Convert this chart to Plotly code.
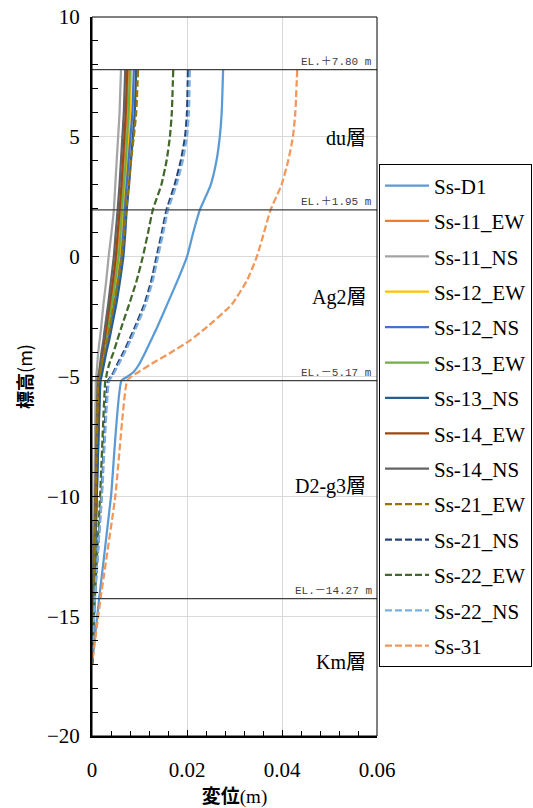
import plotly.graph_objects as go

# Elevation stations (m) shared by every displacement profile
ELEV = [7.8, 6.0, 5.0, 4.0, 3.0, 1.95, 1.0, 0.0, -1.0, -2.0, -3.0, -3.5,
        -4.0, -4.5, -4.8, -5.0, -5.17, -10.0, -14.27, -17.0]

# Maximum displacement (m) per ground motion at each elevation
SS_D1 = [0.0276, 0.0273, 0.0269, 0.0262, 0.0250, 0.0227, 0.0213, 0.0200, 0.0180, 0.0158,
         0.0136, 0.0124, 0.0112, 0.0099, 0.0088, 0.0075, 0.0062, 0.0040, 0.0015, 0.0]
SS_11_EW = [0.0076, 0.0073, 0.0070, 0.0067, 0.0064, 0.0060, 0.0056, 0.0052, 0.0046, 0.0039,
            0.0031, 0.0027, 0.0023, 0.0019, 0.0017, 0.0015, 0.0014, 0.0008, 0.0003, 0.0]
SS_11_NS = [0.0061, 0.0058, 0.0055, 0.0052, 0.0049, 0.0046, 0.0041, 0.0035, 0.0030, 0.0024,
            0.0019, 0.0016, 0.0013, 0.0011, 0.0010, 0.0009, 0.0008, 0.0005, 0.0002, 0.0]
SS_12_EW = [0.0082, 0.0080, 0.0077, 0.0074, 0.0070, 0.0066, 0.0063, 0.0059, 0.0052, 0.0045,
            0.0036, 0.0031, 0.0026, 0.0022, 0.0019, 0.0017, 0.0016, 0.0009, 0.0004, 0.0]
SS_12_NS = [0.0088, 0.0085, 0.0081, 0.0077, 0.0073, 0.0069, 0.0066, 0.0062, 0.0055, 0.0047,
            0.0038, 0.0033, 0.0028, 0.0023, 0.0020, 0.0018, 0.0017, 0.0010, 0.0004, 0.0]
SS_13_EW = [0.0080, 0.0077, 0.0074, 0.0071, 0.0067, 0.0063, 0.0060, 0.0056, 0.0049, 0.0042,
            0.0034, 0.0030, 0.0025, 0.0021, 0.0018, 0.0016, 0.0015, 0.0009, 0.0004, 0.0]
SS_13_NS = [0.0093, 0.0090, 0.0086, 0.0082, 0.0078, 0.0073, 0.0070, 0.0066, 0.0059, 0.0051,
            0.0041, 0.0036, 0.0030, 0.0025, 0.0022, 0.0020, 0.0018, 0.0010, 0.0004, 0.0]
SS_14_EW = [0.0074, 0.0071, 0.0068, 0.0065, 0.0062, 0.0058, 0.0054, 0.0050, 0.0044, 0.0037,
            0.0030, 0.0026, 0.0022, 0.0018, 0.0016, 0.0014, 0.0013, 0.0008, 0.0003, 0.0]
SS_14_NS = [0.0070, 0.0067, 0.0064, 0.0061, 0.0058, 0.0054, 0.0050, 0.0046, 0.0040, 0.0034,
            0.0027, 0.0024, 0.0020, 0.0017, 0.0015, 0.0013, 0.0012, 0.0007, 0.0003, 0.0]
SS_21_EW = [0.0097, 0.0093, 0.0088, 0.0082, 0.0077, 0.0072, 0.0068, 0.0063, 0.0055, 0.0046,
            0.0037, 0.0032, 0.0026, 0.0020, 0.0017, 0.0014, 0.0013, 0.0008, 0.0004, 0.0]
SS_21_NS = [0.0202, 0.0200, 0.0196, 0.0187, 0.0174, 0.0157, 0.0147, 0.0136, 0.0125, 0.0110,
            0.0089, 0.0078, 0.0066, 0.0053, 0.0046, 0.0040, 0.0034, 0.0020, 0.0006, 0.0]
SS_22_EW = [0.0171, 0.0168, 0.0164, 0.0157, 0.0146, 0.0128, 0.0118, 0.0107, 0.0094, 0.0078,
            0.0061, 0.0053, 0.0045, 0.0036, 0.0032, 0.0030, 0.0028, 0.0017, 0.0006, 0.0]
SS_22_NS = [0.0206, 0.0204, 0.0200, 0.0191, 0.0178, 0.0160, 0.0150, 0.0139, 0.0128, 0.0113,
            0.0092, 0.0081, 0.0069, 0.0056, 0.0048, 0.0042, 0.0036, 0.0021, 0.0006, 0.0]
SS_31 = [0.0432, 0.0428, 0.0423, 0.0413, 0.0399, 0.0376, 0.0362, 0.0347, 0.0326, 0.0294,
         0.0238, 0.0206, 0.0166, 0.0123, 0.0099, 0.0083, 0.0074, 0.0049, 0.0018, 0.0]

SERIES_NAMES = ["Ss-D1", "Ss-11_EW", "Ss-11_NS", "Ss-12_EW", "Ss-12_NS", "Ss-13_EW",
                "Ss-13_NS", "Ss-14_EW", "Ss-14_NS", "Ss-21_EW", "Ss-21_NS", "Ss-22_EW",
                "Ss-22_NS", "Ss-31"]
SERIES_VALUES = [SS_D1, SS_11_EW, SS_11_NS, SS_12_EW, SS_12_NS, SS_13_EW, SS_13_NS,
                 SS_14_EW, SS_14_NS, SS_21_EW, SS_21_NS, SS_22_EW, SS_22_NS, SS_31]

# Layer boundaries and layer names
BOUNDARY_EL = [7.80, 1.95, -5.17, -14.27]
LAYER_NAMES = ["du層", "Ag2層", "D2-g3層", "Km層"]
LAYER_LABEL_Y = [4.95, -1.7, -9.6, -16.9]

COLORS = ["#5B9BD5", "#ED7D31", "#A5A5A5", "#FFC000", "#4472C4", "#70AD47", "#255E91",
          "#9E480E", "#636363", "#997300", "#264478", "#43682B", "#7CAFDD", "#F1975A"]
DASHED = [False] * 9 + [True] * 5

SERIF = "Liberation Serif, Noto Sans CJK JP, serif"

fig = go.Figure()
for i, (name, vals) in enumerate(zip(SERIES_NAMES, SERIES_VALUES)):
    fig.add_trace(go.Scatter(
        x=vals, y=ELEV, mode="lines", name=name, legendgroup=name,
        line=dict(color=COLORS[i], width=2.25, shape="spline", smoothing=0.5,
                  dash="7px,3px" if DASHED[i] else "solid"),
    ))

shapes = []
annotations = []
for el in BOUNDARY_EL:
    shapes.append(dict(type="line", xref="paper", x0=0, x1=1, yref="y", y0=el, y1=el,
                       line=dict(color="#404040", width=1.25), layer="above"))
    sign = "＋" if el > 0 else "－"
    annotations.append(dict(
        x=1, xref="paper", y=el, yref="y", xanchor="right", yanchor="bottom",
        xshift=-3, yshift=0, showarrow=False,
        text=f"EL.{sign}{abs(el):.2f} m",
        font=dict(family="Liberation Mono, Noto Sans CJK JP", size=11, color="#404040"),
    ))
for name, y in zip(LAYER_NAMES, LAYER_LABEL_Y):
    annotations.append(dict(
        x=1, xref="paper", y=y, yref="y", xanchor="right", yanchor="middle",
        xshift=-9, showarrow=False, text=name,
        font=dict(family=SERIF, size=20, color="#000"),
    ))

# Plot area frame
shapes.append(dict(type="rect", xref="paper", yref="paper", x0=0, x1=1, y0=0, y1=1,
                   line=dict(color="#000", width=1), layer="above"))

fig.update_layout(
    width=533, height=808,
    margin=dict(l=92, r=156, t=17, b=72, autoexpand=False),
    paper_bgcolor="white", plot_bgcolor="white",
    font=dict(family=SERIF, size=20, color="#000"),
    shapes=shapes, annotations=annotations,
    showlegend=True,
    legend=dict(x=1.007, y=0.795, xanchor="left", yanchor="top",
                bgcolor="white", bordercolor="#000", borderwidth=1,
                font=dict(family=SERIF, size=21, color="#000"),
                tracegroupgap=5.1, itemwidth=44),
    xaxis=dict(
        range=[0, 0.06], dtick=0.02, tick0=0,
        showgrid=True, gridcolor="#D9D9D9", gridwidth=1, zeroline=False,
        showline=True, linecolor="#000", linewidth=2,
        ticks="inside", ticklen=6, tickcolor="#000",
        minor=dict(dtick=0.004, ticks="inside", ticklen=5, tickcolor="#000", showgrid=False),
        tickfont=dict(family=SERIF, size=21),
        ticklabelstandoff=14,
        title=dict(text="<b>変位</b><span style='font-family:Liberation Serif'>(m)</span>",
                   font=dict(family="Noto Sans CJK JP", size=19), standoff=3),
    ),
    yaxis=dict(
        range=[-20, 10], dtick=5, tick0=0,
        showgrid=True, gridcolor="#D9D9D9", gridwidth=1, zeroline=False,
        showline=True, linecolor="#000", linewidth=2,
        ticks="inside", ticklen=7, tickcolor="#000",
        minor=dict(dtick=1, ticks="inside", ticklen=6, tickcolor="#000", showgrid=False),
        tickfont=dict(family=SERIF, size=21),
        ticklabelstandoff=6,
        title=dict(text="<b>標高</b>(m)", font=dict(family="Noto Sans CJK JP", size=18),
                   standoff=10),
    ),
)

fig.write_html("out.html")
